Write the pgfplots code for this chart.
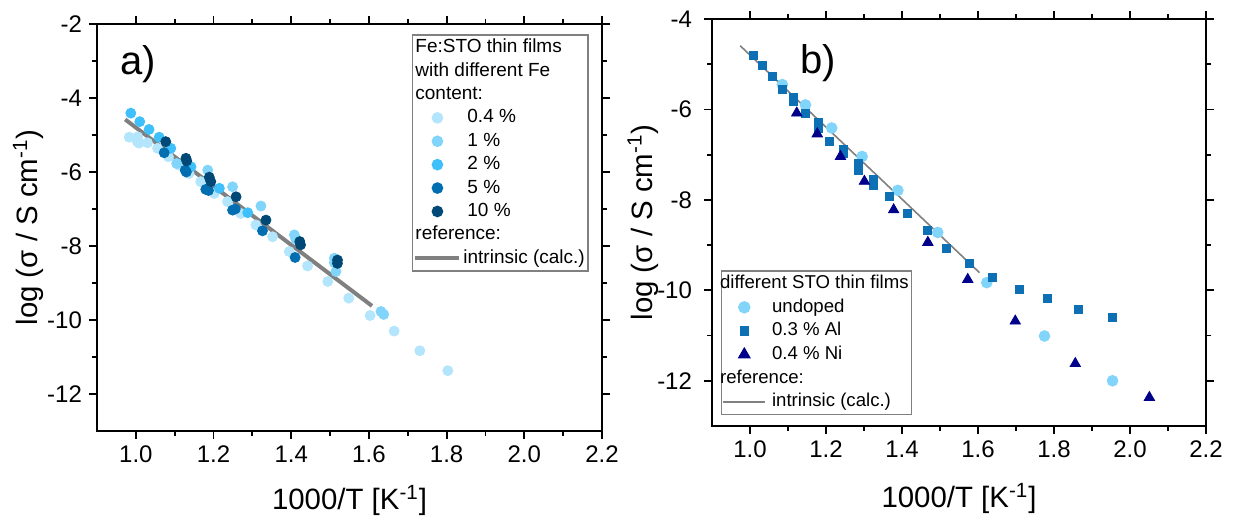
\documentclass[border=0pt]{standalone}
\usepackage{fontspec}
\setmainfont{Liberation Sans}
\usepackage{pgfplots}
\pgfplotsset{compat=1.18}
\definecolor{c04}{RGB}{179,229,252}
\definecolor{c1}{RGB}{129,212,250}
\definecolor{c2}{RGB}{64,192,250}
\definecolor{c5}{RGB}{0,110,176}
\definecolor{c10}{RGB}{0,72,118}
\definecolor{cund}{RGB}{129,212,250}
\definecolor{cal}{RGB}{14,112,180}
\definecolor{cni}{RGB}{0,0,139}
\definecolor{refgray}{RGB}{128,128,128}
\pgfplotsset{
  myaxis/.style={
    scale only axis, anchor=south west, height=203.5pt,
    xmin=0.9, xmax=2.2, xtick={1,1.2,1.4,1.6,1.8,2,2.2}, minor x tick num=1,
    minor y tick num=1,
    xticklabel style={/pgf/number format/.cd, fixed, fixed zerofill, precision=1},
    tick align=outside, tick pos=both, ticklabel pos=left,
    major tick length=4pt, minor tick length=2.5pt,
    axis line style={line width=1pt},
    every tick/.append style={black, line width=0.9pt},
    tick label style={font=\fontsize{12}{14}\selectfont},
    /pgf/number format/assume math mode=true,
    label style={font=\fontsize{14.7}{17}\selectfont},
    xlabel={1000/T [K\textsuperscript{-1}]},
    ylabel={log (σ / S cm\textsuperscript{-1})},
    xlabel style={at={(axis description cs:0.5,0)}, anchor=base, yshift=-39.5pt},
    legend cell align=left,
    legend image code/.code={\path (0pt,0pt) (22pt,0pt);\draw[mark repeat=2,mark phase=2] plot coordinates {(0pt,0pt) (11pt,0pt) (22pt,0pt)};},
  },
  mk/.style={only marks, mark=*, mark size=2.5pt, color=#1,
    legend image code/.code={\path (0pt,0pt) (22pt,0pt);\draw plot coordinates {(11pt,0pt)};}},
  mkb/.style={only marks, color=#1,
    legend image code/.code={\path (0pt,0pt) (21pt,0pt);\draw plot coordinates {(10.5pt,0pt)};}},
}
\begin{document}
\begin{tikzpicture}
\useasboundingbox (0,0) rectangle (617pt,258.5pt);
% ---------------- panel a
\begin{axis}[myaxis, at={(48.5pt,43pt)}, width=252.5pt,
  ymin=-13, ymax=-2, ytick={-12,-10,-8,-6,-4,-2},
  ylabel style={at={(axis description cs:-0.136,0.5)}, anchor=center},
  legend style={at={(0.623,0.975)}, anchor=north west, draw=refgray, line width=0.8pt,
    font=\fontsize{9.5}{11}\selectfont, inner sep=0.5pt, row sep=0pt, column sep=0pt,
    nodes={inner xsep=1pt, inner ysep=1.35pt, text height=7pt, text depth=2pt}},
]
\addlegendimage{empty legend}\addlegendentry{\hspace*{-24pt}Fe:STO thin films}
\addlegendimage{empty legend}\addlegendentry{\hspace*{-24pt}with different Fe}
\addlegendimage{empty legend}\addlegendentry{\hspace*{-24pt}content:}
\addplot[mk=c04] coordinates {
(0.983,-5.06) (1.004,-5.18) (1.030,-5.21) (1.056,-5.36) (1.084,-5.59) (1.110,-5.81)
(1.137,-6.04) (1.167,-6.26) (1.202,-6.58) (1.236,-6.80) (1.270,-7.12) (1.309,-7.43)
(1.352,-7.75) (1.395,-8.15) (1.442,-8.54) (1.494,-8.96) (1.548,-9.41) (1.603,-9.88)
(1.665,-10.30) (1.731,-10.83) (1.803,-11.37) (1.005,-5.05) (1.008,-5.22)
};
\addlegendentry{\hspace*{2pt}0.4 \%}
\addplot[mk=c1] coordinates {
(1.105,-5.77) (1.185,-5.95) (1.249,-6.40) (1.322,-6.92) (1.408,-7.70) (1.412,-7.82)
(1.511,-8.33) (1.511,-8.45) (1.515,-8.69) (1.631,-9.77) (1.638,-9.85)
};
\addlegendentry{\hspace*{2pt}1 \%}
\addplot[mk=c2] coordinates {
(0.987,-4.41) (1.010,-4.64) (1.034,-4.85) (1.060,-5.06) (1.090,-5.36) (1.142,-5.86)
(1.215,-6.44) (1.288,-7.10)
};
\addlegendentry{\hspace*{2pt}2 \%}
\addplot[refgray, line width=2pt, forget plot] coordinates {(0.9725,-4.58) (1.608,-9.62)};
\addplot[mk=c5] coordinates {
(1.073,-5.48) (1.127,-5.95) (1.130,-6.00) (1.180,-6.47) (1.187,-6.50) (1.249,-7.03)
(1.256,-7.00) (1.326,-7.59) (1.410,-8.31)
};
\addlegendentry{\hspace*{2pt}5 \%}
\addplot[mk=c10] coordinates {
(1.077,-5.18) (1.129,-5.63) (1.131,-5.70) (1.189,-6.14) (1.193,-6.26) (1.258,-6.67)
(1.335,-7.30) (1.422,-7.88) (1.424,-7.97) (1.519,-8.38) (1.519,-8.47)
};
\addlegendentry{\hspace*{2pt}10 \%}
\addlegendimage{empty legend}\addlegendentry{\hspace*{-24pt}reference:}
\addlegendimage{refgray, line width=2pt}\addlegendentry{intrinsic (calc.)}
\node[anchor=base west, inner sep=0pt, font=\fontsize{20}{24}\selectfont] at (rel axis cs:0.0455,0.875) {a)};
\end{axis}
% ---------------- panel b
\begin{axis}[myaxis, at={(356pt,45.5pt)}, width=247pt,
  ymin=-13, ymax=-4, ytick={-12,-10,-8,-6,-4},
  yticklabel style={xshift=-2.5pt},
  ylabel style={at={(axis description cs:-0.14,0.5)}, anchor=center},
  xlabel style={yshift=-1.5pt},
  legend image code/.code={\path (0pt,0pt) (21pt,0pt);\draw[mark repeat=2,mark phase=2] plot coordinates {(0pt,0pt) (10.5pt,0pt) (21pt,0pt)};},
  legend style={at={(0.0176,0.383)}, anchor=north west, draw=refgray, line width=0.8pt,
    font=\fontsize{9.3}{11}\selectfont, inner sep=0.5pt, row sep=0pt, column sep=0pt,
    nodes={inner xsep=1pt, inner ysep=1.4pt, text height=7pt, text depth=2pt}},
]
\addlegendimage{empty legend}\addlegendentry{\hspace*{-24pt}different STO thin films}
\addplot[refgray, line width=0.8pt, forget plot] coordinates {(0.974,-4.59) (1.604,-9.61)};
\addplot[mkb=cund, mark=*, mark size=2.7pt] coordinates {
(1.085,-5.45) (1.146,-5.90) (1.215,-6.41) (1.295,-7.04) (1.389,-7.79) (1.494,-8.72)
(1.623,-9.83) (1.775,-11.01) (1.954,-12.00)
};
\addlegendentry{\hspace*{2pt}undoped}
\addplot[mkb=cal, mark=square*, mark size=2pt] coordinates {
(1.009,-4.81) (1.033,-5.03) (1.059,-5.27) (1.085,-5.55) (1.114,-5.73) (1.114,-5.82)
(1.146,-6.08) (1.179,-6.29) (1.179,-6.41) (1.210,-6.71) (1.247,-6.88) (1.247,-6.98)
(1.284,-7.20) (1.284,-7.34) (1.324,-7.54) (1.324,-7.67) (1.368,-7.93) (1.415,-8.30)
(1.466,-8.68) (1.518,-9.07) (1.578,-9.40) (1.639,-9.71) (1.708,-9.99) (1.783,-10.18)
(1.865,-10.42) (1.954,-10.60)
};
\addlegendentry{\hspace*{2pt}0.3 \% Al}
\addplot[mkb=cni, mark=triangle*, mark size=3pt] coordinates {
(1.123,-6.08) (1.177,-6.54) (1.238,-7.04) (1.301,-7.59) (1.378,-8.22) (1.468,-8.94)
(1.573,-9.76) (1.698,-10.68) (1.856,-11.62) (2.051,-12.37)
};
\addlegendentry{\hspace*{2pt}0.4 \% Ni}
\addlegendimage{empty legend}\addlegendentry{\hspace*{-24pt}reference:}
\addlegendimage{refgray, line width=0.8pt}\addlegendentry{\hspace*{2pt}intrinsic (calc.)}
\node[anchor=base west, inner sep=0pt, font=\fontsize{20}{24}\selectfont] at (rel axis cs:0.178,0.865) {b)};
\end{axis}
\end{tikzpicture}
\end{document}
